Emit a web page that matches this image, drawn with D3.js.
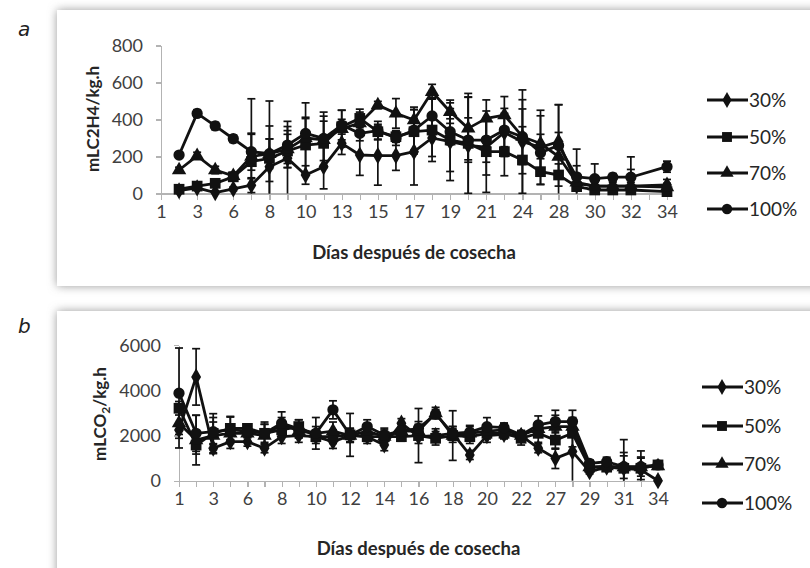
<!DOCTYPE html>
<meta charset="utf-8">
<style>
  body { margin: 0; background: #fff; }
  text { font-family: Lato, "Open Sans", sans-serif; fill: #404040; }
  .axis path, .axis line { fill: none; stroke: #b3b3b3; stroke-width: 1.2; shape-rendering: crispEdges; }
  .axis text { font-size: 18px; fill: #404040; }
  .title { font-size: 18.5px; font-weight: bold; fill: #262626; }
  .ytitle { font-size: 17px; }
  .legend text { font-size: 19px; fill: #262626; }
  .letter { font-family: "DejaVu Sans", sans-serif; font-style: italic; font-size: 20px; fill: #222; }
</style>

<svg id="chart" width="810" height="568"></svg>

<script src="https://cdn.jsdelivr.net/npm/d3@7"></script>

<script>
    // panel a: ethylene
    var daysA = ["1","2","3","5","6","7","8","9","10","12","13","14","15","16","17","18","19","20","21","22","24","26","28","29","30","31","32","33","34"];
    var a30  = [null, 15, 30, 5, 25, 45, 145, 190, 100, 145, 271, 208, 205, 205, 226, 300, 280, 260, 250, 330, 280, 250, 280, 55, 40, 40, 40, null, 46];
    var a50  = [null, 23, 40, 55, 90, 172, 190, 230, 262, 271, 361, 406, 334, 307, 334, 343, 289, 271, 226, 226, 181, 118, 100, 37, 19, 19, 19, null, 10];
    var a70  = [null, 127, 203, 127, 95, 200, 215, 240, 300, 290, 350, 380, 478, 433, 397, 550, 442, 352, 406, 424, 307, 270, 200, 60, 40, 40, 40, null, 35];
    var a100 = [null, 208, 433, 365, 296, 226, 215, 262, 325, 298, 370, 325, 340, 300, 343, 419, 334, 289, 289, 343, 307, 220, 260, 90, 80, 88, 88, null, 145];
    var a30err  = [null, 10, 10, 10, 10, 40, 150, 200, 50, 120, 60, 110, 160, 80, 180, 100, 210, 260, 150, 130, 280, 200, 200, 30, 20, 20, 20, null, 30];
    var a50err  = [null, 10, 10, 15, 20, 340, 310, 90, 150, 120, 40, 50, 40, 30, 120, 170, 170, 270, 220, 130, 180, 70, 60, 20, 15, 15, 15, null, 10];
    var a70err  = [null, 15, 20, 20, 20, 120, 80, 100, 190, 150, 100, 60, 20, 80, 70, 40, 63, 170, 100, 100, 200, 150, 280, 90, 50, 30, 90, null, 20];
    var a100err = [null, 15, 20, 20, 20, 100, 150, 100, 80, 120, 80, 40, 50, 40, 110, 100, 70, 120, 120, 90, 150, 100, 70, 150, 80, 20, 110, null, 30];

    // panel b: respiration
    var daysB = ["1","2","3","4","6","7","8","9","10","11","12","13","14","15","16","17","18","19","20","21","22","23","27","28","29","30","31","32","34"];
    var b30  = [2250, 4600, 1440, 1730, 1730, 1440, 1950, 2000, 1950, 1730, 2000, 1950, 1580, 2550, 1950, 2000, 2100, 1140, 2000, 2050, 2000, 1440, 990, 1290, 400, 600, 550, 480, 0];
    var b50  = [3210, 1580, 2100, 2320, 2320, 2100, 2250, 2400, 1950, 1950, 2030, 1950, 1950, 1950, 2000, 1880, 2000, 1950, 2100, 2100, 1880, 2100, 1800, 2100, 600, 600, 550, 550, 700];
    var b70  = [2550, 1800, 2000, 2100, 2100, 2000, 2500, 2200, 2100, 2200, 2000, 2200, 1950, 2200, 2200, 3000, 2000, 2100, 2200, 2250, 2000, 2300, 2400, 2400, 600, 650, 600, 600, 650];
    var b100 = [3880, 2100, 2170, 2250, 2200, 2100, 2550, 2300, 2100, 3140, 2030, 2400, 2030, 2200, 2320, 2950, 2100, 2150, 2395, 2350, 2030, 2470, 2620, 2620, 770, 840, 620, 620, 700];
    var b30err  = [800, 1250, 200, 300, 200, 200, 300, 300, 200, 300, 300, 200, 250, 200, 300, 300, 300, 200, 300, 200, 200, 200, 450, 1290, 100, 100, 150, 100, 50];
    var b50err  = [300, 400, 500, 500, 200, 400, 200, 300, 300, 300, 950, 300, 200, 200, 1200, 300, 1100, 300, 250, 200, 300, 400, 400, 600, 100, 100, 700, 500, 150];
    var b70err  = [500, 1100, 800, 300, 200, 500, 300, 300, 300, 400, 300, 200, 300, 200, 300, 250, 300, 300, 200, 300, 200, 300, 500, 400, 100, 150, 500, 400, 100];
    var b100err = [2000, 800, 800, 600, 200, 500, 500, 400, 700, 400, 300, 300, 300, 300, 300, 200, 300, 300, 400, 200, 200, 400, 500, 500, 150, 200, 1200, 700, 150];

    var seriesNames = ["30%", "50%", "70%", "100%"];
    var symbols = [d3.symbolDiamond, d3.symbolSquare, d3.symbolTriangle, d3.symbolCircle];
    var symSizes = [85, 115, 90, 100];

    var svg = d3.select("#chart");

    var defs = svg.append("defs");
    defs.append("filter").attr("id", "shadow")
        .attr("x", "-10%").attr("y", "-20%").attr("width", "120%").attr("height", "140%")
        .append("feGaussianBlur").attr("stdDeviation", 5);

    // framed boxes with soft shadow
    [[57, 10, 276], [57, 311, 280]].forEach((b) => {
        svg.append("rect").attr("x", b[0]).attr("y", b[1]).attr("width", 780).attr("height", b[2])
            .attr("fill", "#9a9a9a").attr("filter", "url(#shadow)");
        svg.append("rect").attr("x", b[0]).attr("y", b[1]).attr("width", 780).attr("height", b[2])
            .attr("fill", "#fff");
    });

    function panel(cfg) {
        var x = d3.scalePoint().domain(d3.range(cfg.days.length)).range(cfg.xr);
        var y = d3.scaleLinear().domain([0, cfg.ymax]).range(cfg.yr).clamp(true);
        var g = svg.append("g");

        g.append("g").attr("class", "x axis")
            .attr("transform", "translate(0," + cfg.yr[0] + ")")
            .call(d3.axisBottom(x).tickSizeInner(6).tickSizeOuter(0).tickPadding(6)
                .tickFormat((d) => d % 2 == 0 ? cfg.days[d] : ""));

        g.append("g").attr("class", "y axis")
            .attr("transform", "translate(" + cfg.xr[0] + ",0)")
            .call(d3.axisLeft(y).tickValues(cfg.yticks).tickSizeInner(5).tickSizeOuter(0).tickPadding(13)
                .tickFormat(d3.format("d")));

        var all = cfg.series.map((s, k) => s.map((v, i) => ({i: i, v: v, e: cfg.errs[k][i]})).filter((d) => d.v != null));

        // error bars
        all.forEach((pts) => {
            var eb = g.append("g").attr("stroke", "#111").attr("stroke-width", 1.7);
            pts.forEach((d) => {
                var cx = x(d.i), lo = d.v - d.e, hi = d.v + d.e;
                eb.append("line").attr("x1", cx).attr("x2", cx).attr("y1", y(lo)).attr("y2", y(hi));
                eb.append("line").attr("x1", cx - 4).attr("x2", cx + 4).attr("y1", y(hi)).attr("y2", y(hi));
                if (lo > 0) eb.append("line").attr("x1", cx - 4).attr("x2", cx + 4).attr("y1", y(lo)).attr("y2", y(lo));
            });
        });

        var line = d3.line().x((d) => x(d.i)).y((d) => y(d.v));
        all.forEach((pts, k) => {
            g.append("path").datum(pts).attr("d", line)
                .attr("fill", "none").attr("stroke", "#111").attr("stroke-width", 2.8)
                .attr("stroke-linejoin", "round");
            g.selectAll(null).data(pts).enter().append("path")
                .attr("transform", (d) => "translate(" + x(d.i) + "," + y(d.v) + ")")
                .attr("d", d3.symbol().type(symbols[k]).size(symSizes[k]))
                .attr("fill", "#111");
        });

        // titles
        g.append("text").attr("class", "title")
            .attr("x", (cfg.xr[0] + cfg.xr[1]) / 2).attr("y", cfg.xtitleY)
            .attr("text-anchor", "middle").attr("dy", "0.35em")
            .text("Días después de cosecha");

        var yt = g.append("text").attr("class", "title ytitle")
            .attr("transform", "translate(" + cfg.ytitle[0] + "," + cfg.ytitle[1] + ") rotate(-90)")
            .attr("text-anchor", "middle").attr("dy", "0.35em");
        cfg.ylabel.forEach((p) => {
            var ts = yt.append("tspan").text(p[0]);
            if (p[1]) ts.attr("font-size", "12px").attr("dy", "4");
            else if (yt.selectAll("tspan").size() > 1) ts.attr("dy", "-4");
        });

        // legend
        var lg = g.append("g").attr("class", "legend");
        seriesNames.forEach((name, k) => {
            var ly = cfg.legY[k];
            lg.append("line").attr("x1", cfg.legX).attr("x2", cfg.legX + 41)
                .attr("y1", ly).attr("y2", ly).attr("stroke", "#111").attr("stroke-width", 2.8);
            lg.append("path").attr("transform", "translate(" + (cfg.legX + 20) + "," + ly + ")")
                .attr("d", d3.symbol().type(symbols[k]).size(symSizes[k] * 0.85))
                .attr("fill", "#111");
            lg.append("text").attr("x", cfg.legX + 42).attr("y", ly).attr("dy", "0.35em").text(name);
        });

        g.append("text").attr("class", "letter").attr("x", 18).attr("y", cfg.letterY).text(cfg.letter);
    }

    panel({
        days: daysA, xr: [161, 667], yr: [193.5, 45.5], ymax: 800, yticks: [0, 200, 400, 600, 800],
        series: [a30, a50, a70, a100], errs: [a30err, a50err, a70err, a100err],
        xtitleY: 253, ytitle: [93, 119], ylabel: [["mLC2H4/kg.h", false]],
        legX: 707, legY: [100, 137, 173, 209], letter: "a", letterY: 36
    });

    panel({
        days: daysB, xr: [179, 658], yr: [480.7, 345.3], ymax: 6000, yticks: [0, 2000, 4000, 6000],
        series: [b30, b50, b70, b100], errs: [b30err, b50err, b70err, b100err],
        xtitleY: 549, ytitle: [100, 414], ylabel: [["mLCO", false], ["2", true], ["/kg.h", false]],
        legX: 702, legY: [387, 426, 464, 503], letter: "b", letterY: 333
    });
</script>
